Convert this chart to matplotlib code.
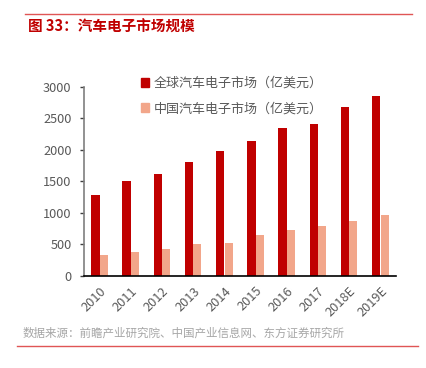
import matplotlib
matplotlib.use("Agg")
import matplotlib.pyplot as plt
import numpy as np
from matplotlib.lines import Line2D
from matplotlib.patches import Patch

plt.rcParams['font.family'] = ['Noto Sans CJK SC', 'DejaVu Sans']

years = ["2010", "2011", "2012", "2013", "2014", "2015", "2016", "2017", "2018E", "2019E"]
global_mkt = [1290, 1510, 1620, 1810, 1975, 2140, 2345, 2405, 2680, 2855]
china_mkt = [333, 376, 428, 508, 519, 656, 725, 793, 873, 963]
labels = ["全球汽车电子市场（亿美元）", "中国汽车电子市场（亿美元）"]
yticks = [0, 500, 1000, 1500, 2000, 2500, 3000]

RED = "#C00000"
PINK = "#F2A68A"
GRAY = "#595959"

fig = plt.figure(figsize=(4.26, 3.68), dpi=100)
W, H = 426, 368
ax = fig.add_axes([84 / W, 1 - 276 / H, (396 - 84) / W, (276 - 86.7) / H])

x = np.arange(len(years))
bw = 0.27
ax.bar(x - bw / 2, global_mkt, width=bw, color=RED, label=labels[0])
ax.bar(x + bw / 2, china_mkt, width=bw * 0.95, color=PINK, label=labels[1])

ax.set_xlim(-0.5, len(years) - 0.5)
ax.set_ylim(0, 3000)
ax.set_yticks(yticks)
ax.set_yticklabels([str(v) for v in yticks], fontsize=9.2, color=GRAY)
ax.set_xticks(x)
ax.set_xticklabels(years, fontsize=9.2, color=GRAY, rotation=45,
                   ha='right', va='top', rotation_mode='anchor')
ax.tick_params(axis='x', length=0, pad=6)
ax.tick_params(axis='y', length=3, width=1, color='#404040', pad=6)
for s in ['top', 'right']:
    ax.spines[s].set_visible(False)
ax.spines['left'].set_color('#7f7f7f')
ax.spines['left'].set_linewidth(1.2)
ax.spines['bottom'].set_color('black')
ax.spines['bottom'].set_linewidth(1.2)

handles = [Patch(color=RED), Patch(color=PINK)]
fig.legend(handles, labels, loc='upper left', bbox_to_anchor=(141 / W, 1 - 77 / H),
           frameon=False, fontsize=9.4, labelcolor=GRAY, handlelength=0.65,
           handleheight=0.65, handletextpad=0.35, labelspacing=0.95, borderaxespad=0,
           borderpad=0)

# header
fig.add_artist(Line2D([25 / W, 412 / W], [1 - 13.5 / H] * 2, color='#E05555', lw=1.0))
fig.text(28 / W, 1 - 27 / H, "图 33：汽车电子市场规模", color=RED, fontsize=10.5,
         fontweight='bold', va='center', ha='left')
# footer
fig.text(23 / W, 1 - 333 / H, "数据来源：前瞻产业研究院、中国产业信息网、东方证券研究所",
         color='#A6A6A6', fontsize=8.3, va='center', ha='left')
fig.add_artist(Line2D([17 / W, 418 / W], [1 - 346 / H] * 2, color='#E05555', lw=1.0))

fig.savefig("out.png", dpi=100)
